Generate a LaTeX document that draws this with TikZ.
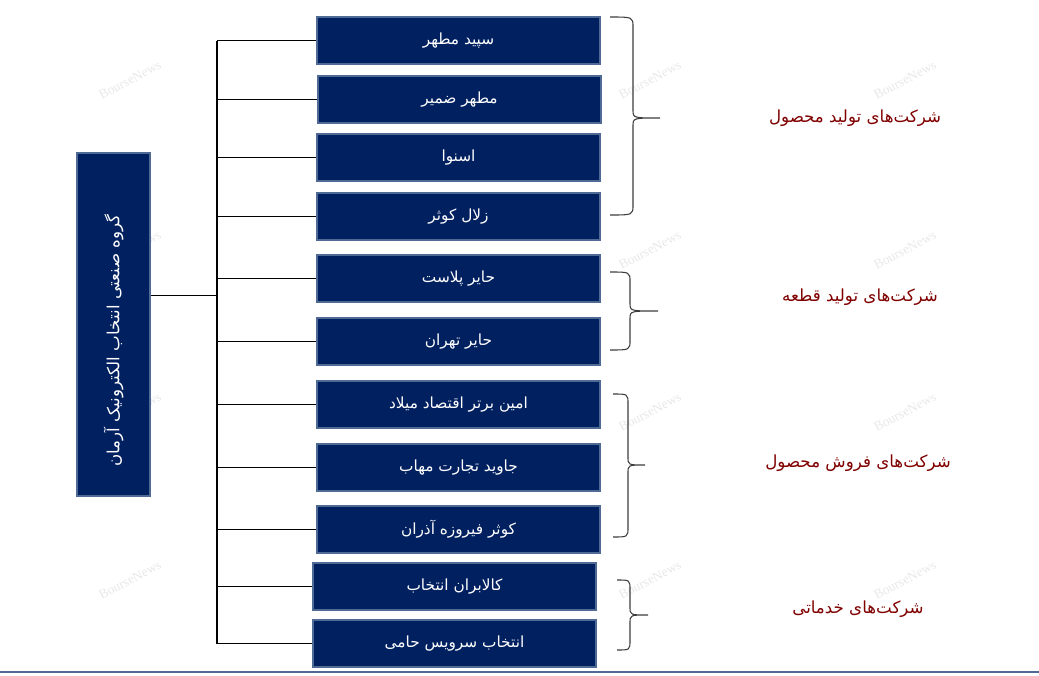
\documentclass[tikz,border=0pt]{standalone}
\usepackage{fontspec}
\newfontfamily\arabicfont[Script=Arabic]{DejaVu Sans}
\newfontfamily\wmfont{Liberation Serif}
\TeXXeTstate=1
\definecolor{navy}{RGB}{0,32,96}
\definecolor{edgeblue}{RGB}{80,106,150}
\definecolor{labelred}{RGB}{128,0,0}
\definecolor{bracegray}{RGB}{60,60,60}

\begin{document}
\begin{tikzpicture}[x=0.75pt, y=-0.75pt]
	\tikzstyle{company} = [rectangle, minimum width=212pt, minimum height=35pt, inner sep=0pt, draw=edgeblue, line width=1.1pt, fill=navy, text=white, font=\arabicfont\fontsize{11.5}{13}\selectfont]
	\tikzstyle{group}   = [text=labelred, font=\arabicfont\fontsize{12.5}{15}\selectfont]
	\tikzstyle{link}    = [black, line width=0.8pt]
	\tikzstyle{curly}   = [bracegray, line width=0.8pt]

	\useasboundingbox (0,0) rectangle (1039,675);

	% watermark
	\foreach \x in {130, 650, 905}
		\foreach \y in {80, 250, 412, 580}
			\node[text=black!9, rotate=28, inner sep=0pt, font=\wmfont\fontsize{10}{12}\selectfont] (wm-\x-\y) at (\x, \y) {BourseNews};

	\node[company, minimum width=257pt, minimum height=55pt, rotate=90, font=\arabicfont\fontsize{12.5}{15}\selectfont] (root) at (113.5, 324.5) {\beginR\hspace*{24pt}گروه صنعتی انتخاب الکترونیک آرمان\endR};

	\foreach \name/\x/\y/\text in {b1/458.5/40.5/سپید مطهر, b2/459.5/99.5/مطهر ضمیر, b3/458.5/157.5/اسنوا, b4/458.5/216.5/زلال کوثر, b5/458.5/278.5/حایر پلاست, b6/458.5/341.5/حایر تهران, b7/458.5/404.5/امین برتر اقتصاد میلاد, b8/458.5/467.5/جاوید تجارت مهاب, b9/458.5/529.5/کوثر فیروزه آذران, b10/454.5/586.5/کالابران انتخاب, b11/454.5/643.5/انتخاب سرویس حامی}
		\node[company] (\name) at (\x, \y) {\beginR\text\endR};

	\coordinate (jn) at (217, 295.5);
	\draw[link] (root.south |- jn) -- (jn);
	\draw[link] (b1.west -| jn) -- (b11.west -| jn);
	\foreach \name in {b1, b2, b3, b4, b5, b6, b7, b8, b9, b10, b11}
		\draw[link] (\name.west -| jn) -- (\name.west);

	% braces
	\foreach \xa/\xv/\xt/\top/\mid/\bot in {610/633/660/17/118/215, 610/630/658/272/311/350, 613/628/645/394/465/537, 617/630/648/580/615/650}
		\draw[curly] (\xa, \top) .. controls (\xv, \top) .. (\xv, \top+10) -- (\xv, \mid-8) .. controls (\xv, \mid) .. (\xt, \mid)
			(\xt, \mid) .. controls (\xv, \mid) .. (\xv, \mid+8) -- (\xv, \bot-10) .. controls (\xv, \bot) .. (\xa, \bot);

	\foreach \name/\x/\y/\text in {g1/855/118/شرکت^^^^200cهای تولید محصول, g2/860/297/شرکت^^^^200cهای تولید قطعه, g3/858/463/شرکت^^^^200cهای فروش محصول, g4/858/609/شرکت^^^^200cهای خدماتی}
		\node[group] (\name) at (\x, \y) {\beginR\text\endR};

	\draw[edgeblue, line width=1.5pt] (0, 672) -- (1039, 672);
\end{tikzpicture}
\end{document}
